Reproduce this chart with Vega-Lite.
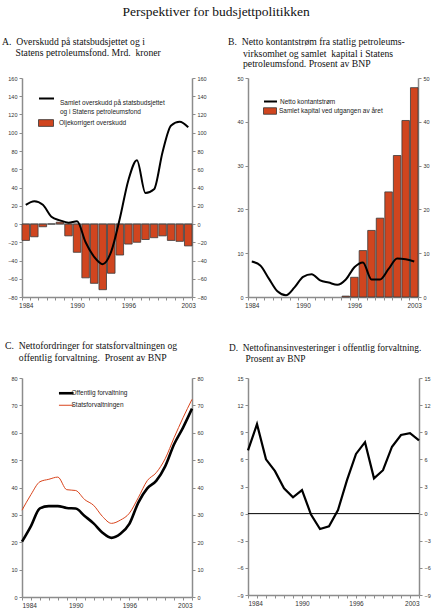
{
  "$schema": "https://vega.github.io/schema/vega-lite/v6.json",
  "padding": {"left": 2, "top": 5, "right": 2, "bottom": 2},
  "title": {"text": "Perspektiver for budsjettpolitikken", "fontSize": 13.5, "anchor": "middle", "offset": 18, "frame": "bounds"},
  "datasets": {
    "tab": [
      {"year": 1984, "over": 21, "olje": -18, "netto": 8.1, "kap": null, "off": 20.2, "stat": 31.7, "fin": 7.0},
      {"year": 1985, "over": 25, "olje": -14, "netto": 7.2, "kap": null, "off": 25.9, "stat": 37.4, "fin": 9.9},
      {"year": 1986, "over": 21, "olje": -3, "netto": 4.2, "kap": null, "off": 32.4, "stat": 42.1, "fin": 6.0},
      {"year": 1987, "over": 8, "olje": 0, "netto": 1.3, "kap": null, "off": 33.2, "stat": 43.0, "fin": 4.7},
      {"year": 1988, "over": 4, "olje": 2, "netto": 0.4, "kap": null, "off": 33.2, "stat": 43.8, "fin": 2.8},
      {"year": 1989, "over": 1.5, "olje": -13, "netto": 2.2, "kap": null, "off": 32.5, "stat": 39.2, "fin": 1.8},
      {"year": 1990, "over": 3, "olje": -31, "netto": 4.6, "kap": null, "off": 32.3, "stat": 38.9, "fin": 2.6},
      {"year": 1991, "over": -20, "olje": -59, "netto": 5.2, "kap": null, "off": 29.6, "stat": 35.6, "fin": -0.1},
      {"year": 1992, "over": -36, "olje": -65, "netto": 3.8, "kap": null, "off": 26.9, "stat": 33.5, "fin": -1.7},
      {"year": 1993, "over": -44, "olje": -72, "netto": 3.3, "kap": null, "off": 23.5, "stat": 29.4, "fin": -1.4},
      {"year": 1994, "over": -30, "olje": -54, "netto": 2.8, "kap": null, "off": 21.6, "stat": 26.9, "fin": 0.4},
      {"year": 1995, "over": 6, "olje": -34, "netto": 4.0, "kap": 0.2, "off": 23.1, "stat": 28.1, "fin": 3.7},
      {"year": 1996, "over": 48, "olje": -22, "netto": 6.8, "kap": 4.5, "off": 26.7, "stat": 30.6, "fin": 6.6},
      {"year": 1997, "over": 70, "olje": -20, "netto": 7.9, "kap": 10.6, "off": 34.5, "stat": 36.3, "fin": 7.9},
      {"year": 1998, "over": 34, "olje": -17, "netto": 4.0, "kap": 15.2, "off": 39.7, "stat": 42.5, "fin": 3.9},
      {"year": 1999, "over": 38, "olje": -15, "netto": 4.0, "kap": 18.0, "off": 42.4, "stat": 45.4, "fin": 4.8},
      {"year": 2000, "over": 79, "olje": -13, "netto": 6.4, "kap": 24.0, "off": 47.7, "stat": 50.5, "fin": 7.4},
      {"year": 2001, "over": 108, "olje": -18, "netto": 8.8, "kap": 32.3, "off": 55.8, "stat": 58.2, "fin": 8.7},
      {"year": 2002, "over": 112, "olje": -19, "netto": 8.6, "kap": 40.3, "off": 61.9, "stat": 65.5, "fin": 8.9},
      {"year": 2003, "over": 106, "olje": -24, "netto": 8.1, "kap": 47.8, "off": 68.8, "stat": 72.2, "fin": 8.1}
    ]
  },
  "columns": 2,
  "bounds": "flush",
  "spacing": {"row": 81, "column": 56},
  "resolve": {
    "scale": {"fill": "independent", "stroke": "independent", "x": "independent", "y": "independent"},
    "legend": {"fill": "independent", "stroke": "independent"}
  },
  "concat": [
    {
      "width": 170,
      "height": 219,
      "title": {"text": "A.\u00a0\u00a0Overskudd på statsbudsjettet og i", "dx": -20, "offset": 1, "frame": "group"},
      "data": {"name": "tab"},
      "layer": [
        {
          "mark": {"type": "bar", "stroke": "#3a3a3a", "strokeWidth": 0.8},
          "encoding": {
            "x": {"field": "year", "type": "ordinal", "title": null, "scale": {"paddingInner": 0.12, "paddingOuter": 0},
              "axis": {"labelAngle": 0, "tickBand": "extent", "labelExpr": "datum.value == 1984 || datum.value == 1990 || datum.value == 1996 || datum.value == 2003 ? datum.label : ''"}},
            "y": {"field": "olje", "type": "quantitative", "title": null, "scale": {"domain": [-80, 160], "nice": false},
              "axis": {"orient": "left", "values": [-80, -60, -40, -20, 0, 20, 40, 60, 80, 100, 120, 140, 160]}},
            "fill": {"datum": "Oljekorrigert overskudd", "scale": {"range": ["#d0451f"]},
              "legend": {"orient": "none", "legendX": 16, "legendY": 37, "title": null, "symbolType": "M-1,-0.45H1V0.45H-1Z", "symbolSize": 225, "symbolStrokeColor": "#333", "symbolStrokeWidth": 0.8, "labelOffset": 5}}
          }
        },
        {
          "data": {"values": [{}]},
          "mark": {"type": "rule", "color": "#555", "strokeWidth": 0.8},
          "encoding": {"y": {"datum": 0, "type": "quantitative", "axis": null}}
        },
        {
          "mark": {"type": "line", "strokeWidth": 2, "interpolate": "monotone"},
          "encoding": {
            "x": {"field": "year", "type": "ordinal", "title": "Statens petroleumsfond. Mrd.\u00a0 kroner",
              "axis": {"orient": "top", "domain": false, "ticks": false, "labels": false, "titleX": -7, "titleY": -30.5, "titleAlign": "left", "titleBaseline": "top", "titleAngle": 0}},
            "y": {"field": "over", "type": "quantitative", "title": null,
              "axis": {"orient": "right", "values": [-80, -60, -40, -20, 0, 20, 40, 60, 80, 100, 120, 140, 160]}},
            "stroke": {"datum": "Samlet overskudd på statsbudsjettet|og i Statens petroleumsfond", "scale": {"range": ["#000000"]},
              "legend": {"orient": "none", "legendX": 16, "legendY": 12, "title": null, "symbolType": "stroke", "symbolSize": 225, "symbolStrokeWidth": 2, "labelOffset": 5, "labelExpr": "split(datum.label, '|')",
                "encode": {"labels": {"update": {"dy": {"value": 4.5}}}}}}
          }
        }
      ],
      "resolve": {"axis": {"y": "independent", "x": "independent"}}
    },
    {
      "width": 170,
      "height": 219,
      "title": {"text": "B.\u00a0\u00a0Netto kontantstrøm fra statlig petroleums-", "dx": -20, "offset": 1, "frame": "group"},
      "data": {"name": "tab"},
      "layer": [
        {
          "mark": {"type": "bar", "stroke": "#3a3a3a", "strokeWidth": 0.8},
          "encoding": {
            "x": {"field": "year", "type": "ordinal", "title": null, "scale": {"paddingInner": 0.12, "paddingOuter": 0},
              "axis": {"labelAngle": 0, "tickBand": "extent", "labelExpr": "datum.value == 1984 || datum.value == 1990 || datum.value == 1996 || datum.value == 2003 ? datum.label : ''"}},
            "y": {"field": "kap", "type": "quantitative", "title": null, "scale": {"domain": [0, 50], "nice": false},
              "axis": {"orient": "left", "values": [0, 10, 20, 30, 40, 50]}},
            "fill": {"datum": "Samlet kapital ved utgangen av året", "scale": {"range": ["#d0451f"]},
              "legend": {"orient": "none", "legendX": 15, "legendY": 26, "title": null, "symbolType": "M-1,-0.5H1V0.5H-1Z", "symbolSize": 169, "symbolStrokeColor": "#333", "symbolStrokeWidth": 0.8, "labelOffset": 2}}
          }
        },
        {
          "mark": {"type": "line", "strokeWidth": 2, "interpolate": "monotone"},
          "encoding": {
            "x": {"field": "year", "type": "ordinal", "title": ["virksomhet og samlet\u00a0 kapital i Statens", "petroleumsfond. Prosent av BNP"],
              "axis": {"orient": "top", "domain": false, "ticks": false, "labels": false, "titleX": -5.5, "titleY": -30, "titleAlign": "left", "titleBaseline": "top", "titleAngle": 0, "titleLineHeight": 10.5}},
            "y": {"field": "netto", "type": "quantitative", "title": null,
              "axis": {"orient": "right", "values": [0, 10, 20, 30, 40, 50]}},
            "stroke": {"datum": "Netto kontantstrøm", "scale": {"range": ["#000000"]},
              "legend": {"orient": "none", "legendX": 15, "legendY": 16, "title": null, "symbolType": "stroke", "symbolSize": 169, "symbolStrokeWidth": 2, "labelOffset": 2}}
          }
        }
      ],
      "resolve": {"axis": {"y": "independent", "x": "independent"}}
    },
    {
      "width": 170,
      "height": 219,
      "title": {"text": "C.\u00a0\u00a0Nettofordringer for statsforvaltningen og", "dx": -17, "offset": 1, "frame": "group"},
      "data": {"name": "tab"},
      "layer": [
        {
          "mark": {"type": "line", "strokeWidth": 2.6, "interpolate": "monotone"},
          "encoding": {
            "x": {"field": "year", "type": "quantitative", "title": null, "scale": {"domain": [1984, 2003], "nice": false, "zero": false},
              "axis": {"values": [1984, 1985, 1986, 1987, 1988, 1989, 1990, 1991, 1992, 1993, 1994, 1995, 1996, 1997, 1998, 1999, 2000, 2001, 2002, 2003], "format": "d",
                "labelExpr": "datum.value == 1984 || datum.value == 1990 || datum.value == 1996 || datum.value == 2003 ? datum.label : ''"}},
            "y": {"field": "off", "type": "quantitative", "title": null, "scale": {"domain": [0, 80], "nice": false},
              "axis": {"orient": "left", "values": [0, 10, 20, 30, 40, 50, 60, 70, 80]}},
            "stroke": {"datum": "Offentlig forvaltning", "scale": {"domain": ["Offentlig forvaltning", "Statsforvaltningen"], "range": ["#000000", "#d9441c"]},
              "legend": {"orient": "none", "legendX": 41, "legendY": 12, "title": null, "symbolType": "stroke", "symbolSize": 213, "labelOffset": 2, "rowPadding": 3,
                "encode": {"symbols": {"update": {"strokeWidth": {"signal": "datum.value === 'Offentlig forvaltning' ? 2.6 : 1"}}}}}}
          }
        },
        {
          "mark": {"type": "line", "strokeWidth": 1, "interpolate": "monotone"},
          "encoding": {
            "x": {"field": "year", "type": "quantitative", "title": "offentlig forvaltning.\u00a0 Prosent av BNP",
              "axis": {"orient": "top", "domain": false, "ticks": false, "labels": false, "titleX": -3.7, "titleY": -26, "titleAlign": "left", "titleBaseline": "top", "titleAngle": 0}},
            "y": {"field": "stat", "type": "quantitative", "title": null, "scale": {"domain": [0, 80], "nice": false},
              "axis": {"orient": "right", "values": [0, 10, 20, 30, 40, 50, 60, 70, 80]}},
            "stroke": {"datum": "Statsforvaltningen"}
          }
        }
      ],
      "resolve": {"axis": {"y": "independent", "x": "independent"}}
    },
    {
      "width": 171,
      "height": 217,
      "title": {"text": "D.\u00a0\u00a0Nettofinansinvesteringer i offentlig forvaltning.", "dx": -19, "offset": 0, "frame": "group", "fontSize": 9.4},
      "data": {"name": "tab"},
      "layer": [
        {
          "mark": {"type": "rule", "color": "#000000", "strokeWidth": 1},
          "encoding": {
            "x": {"field": "year", "aggregate": "min", "type": "quantitative", "title": "Prosent av BNP", "scale": {"domain": [1984, 2003], "nice": false, "zero": false},
              "axis": {"orient": "top", "domain": false, "ticks": false, "labels": false, "titleX": -3, "titleY": -24, "titleAlign": "left", "titleBaseline": "top", "titleAngle": 0, "titleFontSize": 9.4}},
            "x2": {"field": "year", "aggregate": "max"},
            "y": {"datum": 0, "type": "quantitative", "scale": {"domain": [-9, 15], "nice": false},
              "axis": {"orient": "left", "values": [-9, -6, -3, 0, 3, 6, 9, 12, 15]}}
          }
        },
        {
          "mark": {"type": "line", "strokeWidth": 2.2, "color": "#000000"},
          "encoding": {
            "x": {"field": "year", "type": "quantitative", "title": null,
              "axis": {"orient": "bottom", "values": [1984, 1985, 1986, 1987, 1988, 1989, 1990, 1991, 1992, 1993, 1994, 1995, 1996, 1997, 1998, 1999, 2000, 2001, 2002, 2003], "format": "d",
                "labelExpr": "datum.value == 1984 || datum.value == 1990 || datum.value == 1996 || datum.value == 2003 ? datum.label : ''"}},
            "y": {"field": "fin", "type": "quantitative", "title": null,
              "axis": {"orient": "right", "values": [-9, -6, -3, 0, 3, 6, 9, 12, 15]}}
          }
        }
      ],
      "resolve": {"axis": {"y": "independent", "x": "independent"}}
    }
  ],
  "config": {
    "view": {"stroke": null},
    "axis": {"domainColor": "#8c8c8c", "domainWidth": 1.5, "tickColor": "#8c8c8c", "tickWidth": 1, "tickSize": 3, "labelFont": "Liberation Sans", "labelFontSize": 5.5, "labelColor": "#333333", "grid": false, "labelPadding": 2,
      "titleFont": "Liberation Serif", "titleFontSize": 9.7, "titleFontWeight": "normal", "titleColor": "#111111"},
    "axisX": {"labelFontSize": 6.5},
    "legend": {"labelFont": "Liberation Sans", "labelFontSize": 6.5, "labelColor": "#222222", "padding": 0, "labelLimit": 300},
    "title": {"font": "Liberation Serif", "fontSize": 9.7, "fontWeight": "normal", "anchor": "start", "color": "#111111"}
  }
}
